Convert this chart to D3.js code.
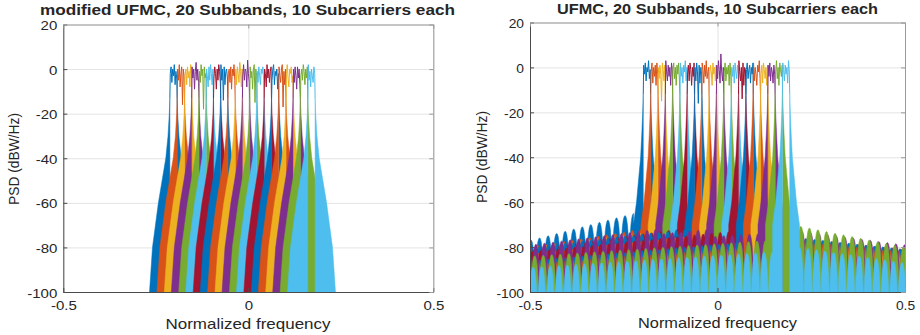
<!DOCTYPE html>
<html><head><meta charset="utf-8">
<script src="https://cdn.jsdelivr.net/npm/d3@7"></script>
<style>
body{margin:0;background:#fff}
svg{display:block}
text{font-family:"Liberation Sans",Arial,Helvetica,sans-serif;fill:#262626}
</style>
</head><body>
<svg id="chart" width="920" height="335"></svg>
<script>
// ---------------- DATA ----------------
const subbands = ["Subband 1","Subband 2","Subband 3","Subband 4","Subband 5","Subband 6","Subband 7","Subband 8","Subband 9","Subband 10",
  "Subband 11","Subband 12","Subband 13","Subband 14","Subband 15","Subband 16","Subband 17","Subband 18","Subband 19","Subband 20"];
const seriesColors = ["#0072BD","#D95319","#EDB120","#7E2F8E","#77AC30","#4DBEEE","#A2142F"];
const xTickValues = [-0.5, 0, 0.5];
const yTickValues = [-100, -80, -60, -40, -20, 0, 20];
const xDomain = [-0.5, 0.5];
const yDomain = [-100, 20];
const titles = ["modified UFMC, 20 Subbands, 10 Subcarriers each", "UFMC, 20 Subbands, 10 Subcarriers each"];
const xLabel = "Normalized frequency";
const yLabel = "PSD (dBW/Hz)";

// first normalized frequency of each subband's passband
const modBandStart  = [-0.212,-0.192,-0.172,-0.153,-0.133,-0.114,-0.094,-0.075,-0.055,-0.035,-0.016,0.004,0.023,0.043,0.063,0.082,0.102,0.121,0.141,0.161];
const ufmcBandStart = [-0.198,-0.178,-0.159,-0.139,-0.120,-0.100,-0.081,-0.061,-0.042,-0.022,-0.003,0.017,0.037,0.056,0.076,0.095,0.115,0.134,0.154,0.173];
const bandWidth = 0.0196;

// out-of-band skirt: level (dB) vs distance from passband edge
const modSkirtDb      = [-13, -20, -30, -40, -60, -80, -100];
const modSkirtOffset  = [0, 0.0015, 0.005, 0.011, 0.031, 0.047, 0.055];
const ufmcSkirtDb     = [-12, -20, -30, -40, -60, -70];
const ufmcSkirtOffset = [0, 0.0015, 0.004, 0.007, 0.018, 0.026];

// UFMC sidelobe floor: lobe spacing and lobe shape (position in lobe, dB below lobe peak)
const sidelobeSpacing = 0.0228;
const lobeU    = [0, 0.03, 0.06, 0.1, 0.2, 0.3, 0.4, 0.5, 0.6, 0.7, 0.8, 0.9, 0.94, 0.97];
const lobeDrop = [-60, -20, -14.5, -10, -4.6, -1.8, -0.4, 0, -0.4, -1.8, -4.6, -10, -14.5, -20];

// UFMC sidelobe peak levels (dB) per subband: at f=-0.5, next to left skirt, next to right skirt, at f=0.5
const ufmcFloorFarLeft   = [-77,-80,-80,-79,-83,-85,-81,-80,-83,-83,-80,-84,-87,-82,-86,-87,-87,-80,-84,-89];
const ufmcFloorNearLeft  = [-65,-72,-73,-72,-75,-78,-72,-72,-75,-76,-72,-76,-80,-73,-78,-80,-80,-74,-77,-82];
const ufmcFloorNearRight = [-78,-79,-79,-77,-78,-82,-77,-75,-78,-78,-75,-76,-81,-74,-74,-76,-77,-72,-70,-80];
const ufmcFloorFarRight  = [-86,-86,-86,-84,-85,-88,-84,-82,-84,-84,-81,-83,-87,-81,-81,-82,-83,-79,-80,-87];

// passband trace (dB) across each subband
const modRipple = [
  [-2, 1,-6, 0,-3, 2,-7,-1,-4],[ 0,-5, 2,-8,-2, 1,-16, 0,-3],[-3, 0,-7, 1,-4,-1,-8, 2,-2],[ 1,-4, 0,-9,-1, 3,-5, 0,-6],
  [-1,-6, 2,-3, 0,-18, 1,-4,-2],[ 0,-3,-8, 1,-5, 2,-2,-7, 0],[-4, 1,-2,-9, 0,-5, 2,-1,-6],[ 2,-5, 0,-14, 1,-7,-1, 0,-4],
  [-2, 0,-6, 1,-9, 0,-3, 2,-5],[ 0,-7, 1,-2,-6, 3,-1,-8, 0],[-3, 2,-5, 0,-1,-8, 4,-2,-6],[ 1,-4,-1,-9, 0, 2,-15, 0,-3],
  [-1,-6, 1,-3,-7, 0,-2, 1,-5],[ 0,-2,-8, 2,-4, 0,-6,-1, 1],[-5, 0, 2,-7,-1,-3, 0,-9,-2],[ 1,-3,-6, 0, 2,-17,-1,-7, 0],
  [-2, 2,-4,-8, 0,-2, 1,-6,-3],[ 0,-6, 1,-3,-9, 1,-4, 0,-7],[-3, 0,-5, 2,-1,-7, 0,-4, 1],[ 2,-5,-1,-8, 0,-3,-6, 1,-2]];
const ufmcRipple = [
  [ 1,-3, 2,-6, 0,-2, 3,-5,-1],[-2, 2,-7, 0,-4, 1,-8, 2,-3],[ 0,-5, 1,-3,-15, 2,-1,-6, 1],[ 3,-2,-6, 1,-4, 0,-8, 2,-1],
  [-1, 2,-5, 0,-8, 1,-3, 2,-6],[ 2,-4, 0,-7, 1,-2, 3,-6, 0],[-3, 1,-6, 2,-1,-8, 0,-4, 2],[ 0,-6, 2,-2,-16, 1,-7, 0,-3],
  [ 2,-1,-7, 1,-4, 3,-5,-2, 0],[-4, 1,-2,-8, 2,-3, 0,-6, 1],[ 1,-5, 3,-1,-7, 6,-2,-6, 0],[-2, 2,-6, 0,-3, 1,-8, 2,-4],
  [ 0,-4, 1,-7, 2,-2,-5, 1,-3],[ 3,-2,-6, 0,-14, 2,-8, 0,-1],[-1, 2,-5,-1, 1,-7, 0,-3, 2],[ 2,-6, 0,-3,-8, 1,-2, 3,-5],
  [-3, 1,-7, 2,-1,-5, 0,-8, 1],[ 1,-4, 2,-6, 0,-2,-7, 1,-3],[-2, 3,-5, 0,-8, 2,-1,-4, 1],[ 2,-1,-6, 1,-3, 0,-7, 3,-2]];

// ---------------- LAYOUT ----------------
const panels = [
  { left: 63.3, right: 433.3, top: 24.5, bottom: 292, bandStart: modBandStart, ripple: modRipple,
    skirtDb: modSkirtDb, skirtOff: modSkirtOffset, floor: false,
    title: titles[0], titleX: 247.5, titleY: 15, titleLen: 415, tickStretch: 1.25,
    xLabelX: 248, xLabelY: 329, xLabelLen: 165, yLabelX: 19, yLabelY: 159 },
  { left: 530, right: 905, top: 22.5, bottom: 292, bandStart: ufmcBandStart, ripple: ufmcRipple,
    skirtDb: ufmcSkirtDb, skirtOff: ufmcSkirtOffset, floor: true,
    title: titles[1], titleX: 717.5, titleY: 14, titleLen: 321, tickStretch: 1.15,
    xLabelX: 717.5, xLabelY: 328, xLabelLen: 159, yLabelX: 487, yLabelY: 157 }
];

const svg = d3.select("#chart");

function stretchText(sel, factor) {
  sel.each(function () {
    const w = this.getComputedTextLength();
    if (w > 0) d3.select(this).attr("textLength", w * factor).attr("lengthAdjust", "spacingAndGlyphs");
  });
}

panels.forEach((p, pi) => {
  const x = d3.scaleLinear().domain(xDomain).range([p.left, p.right]);
  const y = d3.scaleLinear().domain(yDomain).range([p.bottom, p.top]);
  const w = p.right - p.left, h = p.bottom - p.top;
  const g = svg.append("g");

  // grid
  const gridY = g.append("g").attr("transform", `translate(${p.left},0)`)
    .call(d3.axisLeft(y).tickValues(yTickValues).tickSize(-w).tickFormat(""));
  const gridX = g.append("g").attr("transform", `translate(0,${p.bottom})`)
    .call(d3.axisBottom(x).tickValues(xTickValues).tickSize(-h).tickFormat(""));
  [gridY, gridX].forEach(gg => { gg.select(".domain").remove(); gg.selectAll("line").attr("stroke", "#e4e4e4").attr("stroke-width", 1); });

  // clip
  const clipId = "clip" + pi;
  svg.append("clipPath").attr("id", clipId).append("rect")
    .attr("x", p.left).attr("y", p.top).attr("width", w).attr("height", h);
  const plot = g.append("g").attr("clip-path", `url(#${clipId})`);

  const area = d3.area().x(d => x(d[0])).y0(y(-100)).y1(d => y(d[1]));
  const line = d3.line().x(d => x(d[0])).y(d => y(d[1]));
  const nS = p.skirtDb.length;

  function floorPts(xJ, xEnd, nearDb, farDb, dir) {
    const peak = d3.scaleLinear().domain([xJ, xEnd]).range([nearDb, farDb]);
    const span = Math.abs(xEnd - xJ) + sidelobeSpacing;
    const pts = [];
    for (let m = 0; m * sidelobeSpacing < span; m++) {
      for (let i = 0; i < lobeU.length; i++) {
        const dist = (m + lobeU[i] - 0.5) * sidelobeSpacing;
        if (dist < 0) continue;
        const xx = xJ + dir * dist;
        pts.push([xx, Math.max(-100, peak(xx) + lobeDrop[i])]);
      }
    }
    return pts;
  }

  subbands.forEach((name, k) => {
    const color = seriesColors[k % seriesColors.length];
    const a = p.bandStart[k], b = a + bandWidth;
    // left out-of-band region
    let leftPts = [];
    for (let i = nS - 1; i >= 0; i--) leftPts.push([a - p.skirtOff[i], p.skirtDb[i]]);
    if (p.floor) {
      const xJ = a - p.skirtOff[nS - 1];
      const fl = floorPts(xJ, xDomain[0], ufmcFloorNearLeft[k], ufmcFloorFarLeft[k], -1).reverse();
      leftPts = fl.concat(leftPts);
    }
    // right out-of-band region
    let rightPts = [];
    for (let i = 0; i < nS; i++) rightPts.push([b + p.skirtOff[i], p.skirtDb[i]]);
    if (p.floor) {
      const xJ = b + p.skirtOff[nS - 1];
      rightPts = rightPts.concat(floorPts(xJ, xDomain[1], ufmcFloorNearRight[k], ufmcFloorFarRight[k], 1));
    }
    const sb = plot.append("g").attr("class", "subband").attr("data-name", name);
    sb.append("path").attr("d", area(leftPts)).attr("fill", color).attr("stroke", color).attr("stroke-width", 0.5);
    sb.append("path").attr("d", area(rightPts)).attr("fill", color).attr("stroke", color).attr("stroke-width", 0.5);
    // passband trace
    const r = p.ripple[k];
    const pb = [[a, p.skirtDb[0]]];
    r.forEach((v, i) => pb.push([a + (i + 0.5) / r.length * bandWidth, v]));
    pb.push([b, p.skirtDb[0]]);
    sb.append("path").attr("d", line(pb)).attr("fill", "none").attr("stroke", color).attr("stroke-width", 1);
  });

  // axes (MATLAB style box with inward ticks)
  const fmt = d => String(d);
  const axB = g.append("g").attr("transform", `translate(0,${p.bottom})`)
    .call(d3.axisBottom(x).tickValues(xTickValues).tickSizeInner(-4).tickSizeOuter(0).tickPadding(9).tickFormat(fmt));
  const axL = g.append("g").attr("transform", `translate(${p.left},0)`)
    .call(d3.axisLeft(y).tickValues(yTickValues).tickSizeInner(-4).tickSizeOuter(0).tickPadding(6).tickFormat(fmt));
  const axT = g.append("g").attr("transform", `translate(0,${p.top})`)
    .call(d3.axisTop(x).tickValues(xTickValues).tickSizeInner(-4).tickSizeOuter(0).tickFormat(""));
  const axR = g.append("g").attr("transform", `translate(${p.right},0)`)
    .call(d3.axisRight(y).tickValues(yTickValues).tickSizeInner(-4).tickSizeOuter(0).tickFormat(""));
  [axB, axL].forEach(a => { a.select(".domain").attr("stroke", "#4a4a4a"); a.selectAll("line").attr("stroke", "#4a4a4a"); });
  [axT, axR].forEach(a => { a.select(".domain").attr("stroke", "#9a9a9a"); a.selectAll("line").attr("stroke", "#9a9a9a"); });
  [axB, axL].forEach(a => a.selectAll("text").attr("fill", "#262626").style("font-size", "12px")
    .style("font-family", '"Liberation Sans",Arial,sans-serif'));
  axL.selectAll("text").attr("dy", "0.42em");
  stretchText(axB.selectAll("text"), p.tickStretch);
  stretchText(axL.selectAll("text"), p.tickStretch);

  // title
  g.append("text").attr("x", p.titleX).attr("y", p.titleY).attr("text-anchor", "middle")
    .style("font-size", "14px").style("font-weight", "bold")
    .attr("textLength", p.titleLen).attr("lengthAdjust", "spacingAndGlyphs").text(p.title);
  // x label
  g.append("text").attr("x", p.xLabelX).attr("y", p.xLabelY).attr("text-anchor", "middle")
    .style("font-size", "14.5px").attr("textLength", p.xLabelLen).attr("lengthAdjust", "spacingAndGlyphs").text(xLabel);
  // y label
  g.append("text").attr("transform", `translate(${p.yLabelX},${p.yLabelY}) rotate(-90)`).attr("text-anchor", "middle")
    .style("font-size", "14.5px").attr("textLength", 92).attr("lengthAdjust", "spacingAndGlyphs").text(yLabel);
});
</script>
</body></html>
